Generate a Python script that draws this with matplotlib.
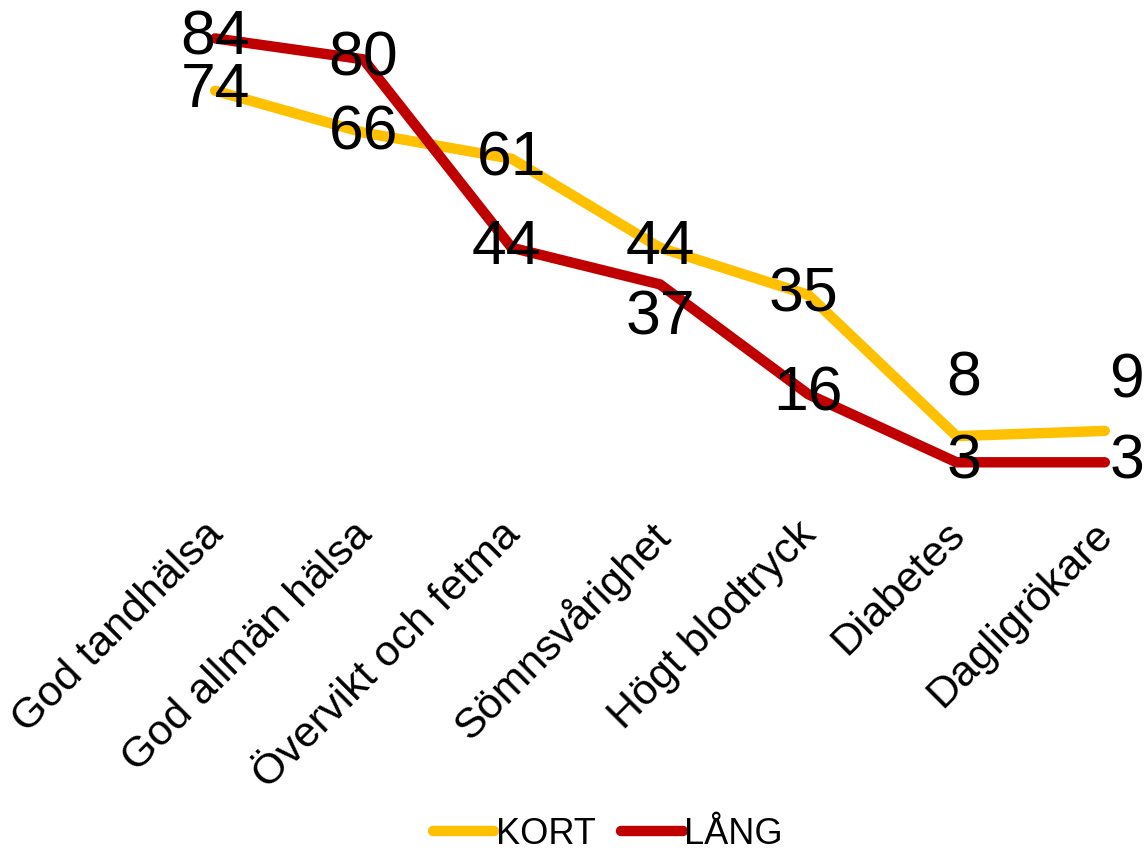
import numpy as np
import matplotlib.pyplot as plt
from matplotlib.transforms import ScaledTranslation

plt.rcParams['font.family'] = ['Liberation Sans', 'DejaVu Sans']

# kategorier och värden
categories = ['God tandhälsa', 'God allmän hälsa', 'Övervikt och fetma',
              'Sömnsvårighet', 'Högt blodtryck', 'Diabetes', 'Dagligrökare']
kort = [74, 66, 61, 44, 35, 8, 9]
lang = [84, 80, 44, 37, 16, 3, 3]

# förskjutning av etiketter (px) där de inte ligger mitt på punkten
kort_offsets = [(0, 0), (0, 0), (0, 0), (0, 0), (-5, 0), (7, 57), (22, 50)]
lang_offsets = [(0, 0), (0, 0), (-5, 0), (0, -34), (0, 0), (7, 0), (22, 0)]

fig = plt.figure(figsize=(11.47, 8.5), dpi=100)
ax = fig.add_axes([141 / 1147, 1 - 478 / 850, 1 - 141 / 1147, (478 - 7) / 850])

x = np.arange(len(categories))
yellow = '#FFC000'
red = '#C00000'
ax.plot(x, kort, color=yellow, lw=7.5, solid_capstyle='round', solid_joinstyle='round', label='KORT')
ax.plot(x, lang, color=red, lw=7.5, solid_capstyle='round', solid_joinstyle='round', label='LÅNG')

for xi, v, off in zip(x, kort, kort_offsets):
    ax.annotate(str(v), (xi, v), xytext=(off[0] * 0.72, off[1] * 0.72), textcoords='offset points',
                ha='center', va='center', fontsize=45, color='black')
for xi, v, off in zip(x, lang, lang_offsets):
    ax.annotate(str(v), (xi, v), xytext=(off[0] * 0.72, off[1] * 0.72), textcoords='offset points',
                ha='center', va='center', fontsize=45, color='black')

ax.set_xlim(-0.5, (1147 - 215) / 148.3)
ax.set_ylim(0, 90)
ax.set_xticks(x)
ax.set_xticklabels(categories, rotation=45, ha='right', rotation_mode='anchor', fontsize=31)
ax.tick_params(axis='x', length=0, pad=26)
shift = ScaledTranslation(-12 / 100, 0, fig.dpi_scale_trans)
for lbl in ax.get_xticklabels():
    lbl.set_transform(lbl.get_transform() + shift)
ax.set_yticks([])
for s in ax.spines.values():
    s.set_visible(False)

fig.legend(loc='lower center', bbox_to_anchor=(0.53, -0.04), ncol=2, frameon=False, fontsize=26,
           handlelength=1.7, handletextpad=0.05, columnspacing=0.7)

fig.savefig('out.png', dpi=100)
